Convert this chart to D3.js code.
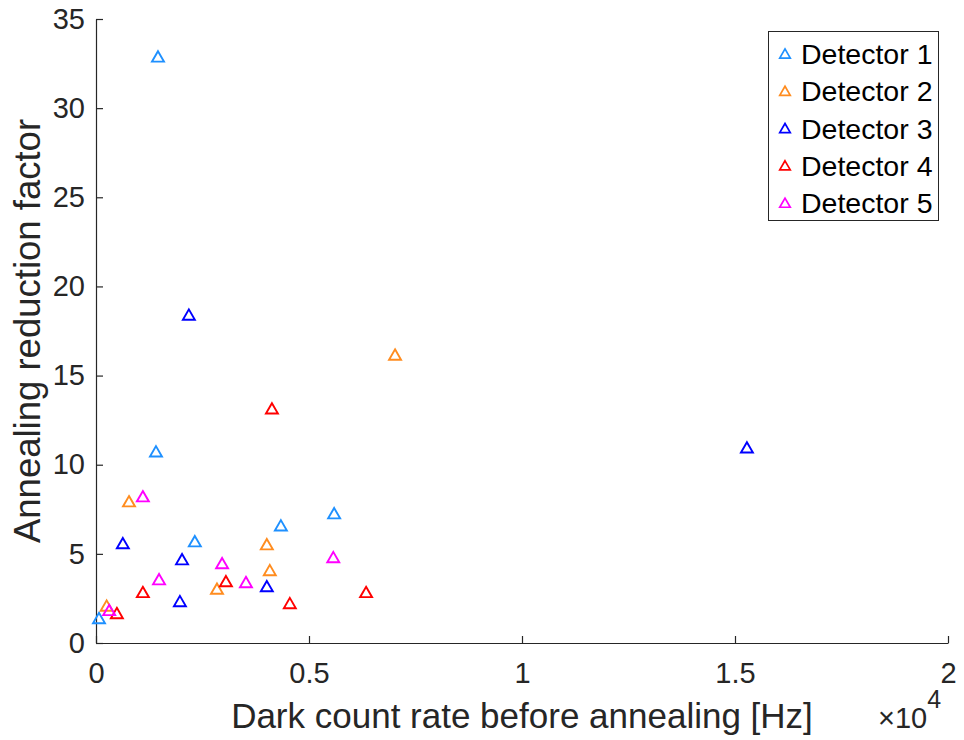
<!DOCTYPE html>
<html>
<head>
<meta charset="utf-8">
<script src="https://cdn.jsdelivr.net/npm/d3@7"></script>
<style>
  html, body { margin: 0; padding: 0; background: #fff; }
  svg { display: block; font-family: "Liberation Sans", Arial, Helvetica, sans-serif; }
</style>
</head>
<body>
<svg id="chart" width="964" height="740"></svg>
<script>
// Dark count rate before annealing (Hz) and the reduction factor, per detector
const seriesNames = ["Detector 1", "Detector 2", "Detector 3", "Detector 4", "Detector 5"];
const seriesColors = ["#1E90FF", "#FF8C1F", "#0000FF", "#FF0000", "#FF00FF"];

const det1X = [1455, 1408, 70, 2320, 4340, 5590];
const det1Y = [32.9, 10.75, 1.4, 5.71, 6.6, 7.28];

const det2X = [7020, 775, 250, 4010, 4080, 2840];
const det2Y = [16.18, 7.95, 2.1, 5.54, 4.09, 3.05];

const det3X = [2180, 15280, 630, 2020, 1970, 4010];
const det3Y = [18.42, 10.97, 5.6, 4.7, 2.35, 3.19];

const det4X = [4130, 490, 1100, 3050, 4550, 6340];
const det4Y = [13.16, 1.68, 2.86, 3.47, 2.24, 2.86];

const det5X = [1100, 310, 1480, 2960, 3520, 5570];
const det5Y = [8.23, 1.85, 3.58, 4.48, 3.42, 4.82];

const xTicks = [0, 5000, 10000, 15000, 20000];
const xTickLabels = ["0", "0.5", "1", "1.5", "2"];
const yTicks = [0, 5, 10, 15, 20, 25, 30, 35];

const seriesX = [det1X, det2X, det3X, det4X, det5X];
const seriesY = [det1Y, det2Y, det3Y, det4Y, det5Y];

const svg = d3.select("#chart");
const axisColor = "#262626";

const margin = { left: 96, right: 948, top: 19, bottom: 643 };
const x = d3.scaleLinear().domain([0, 20000]).range([margin.left, margin.right]);
const y = d3.scaleLinear().domain([0, 35]).range([margin.bottom, margin.top]);

// Axes with inward ticks
const xAxis = svg.append("g")
  .attr("transform", `translate(0,${margin.bottom})`)
  .call(d3.axisBottom(x).tickValues(xTicks)
    .tickFormat((d, i) => xTickLabels[i])
    .tickSizeInner(-7).tickSizeOuter(0).tickPadding(19));
const yAxis = svg.append("g")
  .attr("transform", `translate(${margin.left},0)`)
  .call(d3.axisLeft(y).tickValues(yTicks)
    .tickSizeInner(-7).tickSizeOuter(0).tickPadding(11));

[xAxis, yAxis].forEach(g => {
  g.select(".domain").attr("stroke", axisColor).attr("stroke-width", 1.2);
  g.selectAll(".tick line").attr("stroke", axisColor).attr("stroke-width", 1.2);
  g.selectAll(".tick text").attr("fill", axisColor).attr("font-size", 29)
    .attr("font-family", "Liberation Sans, Arial, sans-serif");
});
xAxis.selectAll(".tick text").attr("dy", "0.71em");

// Axis titles
svg.append("text")
  .attr("x", (margin.left + margin.right) / 2)
  .attr("y", 728)
  .attr("text-anchor", "middle")
  .attr("fill", axisColor)
  .attr("font-size", 35)
  .text("Dark count rate before annealing [Hz]");

svg.append("text")
  .attr("transform", `translate(40,${(margin.top + margin.bottom) / 2}) rotate(-90)`)
  .attr("text-anchor", "middle")
  .attr("fill", axisColor)
  .attr("font-size", 36.5)
  .text("Annealing reduction factor");

// Exponent marker for the x axis
const expo = svg.append("text")
  .attr("x", 878)
  .attr("y", 728)
  .attr("fill", axisColor)
  .attr("font-size", 29);
expo.append("tspan").text("\u00D710");
expo.append("tspan").attr("dy", -20).attr("font-size", 25).text("4");

// Open triangle markers
const tri = d3.symbol().type(d3.symbolTriangle).size(62);

seriesNames.forEach((name, s) => {
  const pts = seriesX[s].map((v, i) => [v, seriesY[s][i]]);
  svg.append("g")
    .selectAll("path")
    .data(pts)
    .join("path")
    .attr("d", tri)
    .attr("transform", d => `translate(${x(d[0])},${y(d[1]) + 1.7})`)
    .attr("fill", "none")
    .attr("stroke", seriesColors[s])
    .attr("stroke-width", 1.9);
});

// Legend
const legend = svg.append("g");
legend.append("rect")
  .attr("x", 768.5).attr("y", 31.5)
  .attr("width", 170).attr("height", 189)
  .attr("fill", "#fff")
  .attr("stroke", axisColor)
  .attr("stroke-width", 1);

const legTri = d3.symbol().type(d3.symbolTriangle).size(48);
seriesNames.forEach((name, s) => {
  const cy = 54 + s * 37.3;
  legend.append("path")
    .attr("d", legTri)
    .attr("transform", `translate(785,${cy + 1})`)
    .attr("fill", "none")
    .attr("stroke", seriesColors[s])
    .attr("stroke-width", 1.7);
  legend.append("text")
    .attr("x", 801)
    .attr("y", cy + 10)
    .attr("fill", "#000")
    .attr("font-size", 28.5)
    .text(name);
});
</script>
</body>
</html>
